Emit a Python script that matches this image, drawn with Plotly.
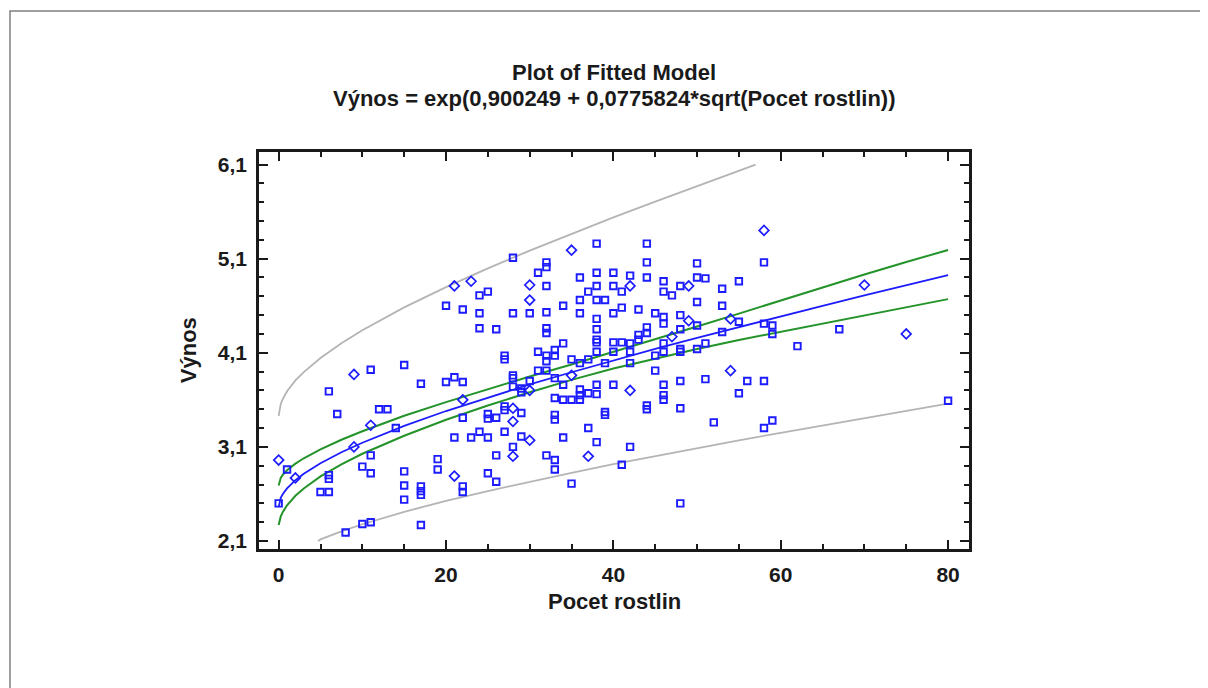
import plotly.graph_objects as go

# ---------------- data ----------------
# observed points drawn as small open squares
sq_x = [24, 25, 20, 22, 24, 24, 26,
        15, 11, 6, 17, 20, 21, 22, 7, 12, 13, 14, 22, 25, 25, 26, 21, 23, 24, 25,
        11, 1, 10, 11, 6, 6, 5, 6, 0, 15, 15, 15, 17, 17, 17, 19, 19, 22, 22, 25, 26,
        17, 10, 11, 8,
        28, 38, 44, 32, 32, 31, 32, 36, 38, 38, 40, 40, 42, 41, 44, 44, 46, 46, 47, 48,
        50, 50, 51, 53, 37, 36, 38, 39, 50, 34, 53,
        41, 43, 28, 30, 32, 36, 40, 45, 46, 46, 48, 32, 32, 38, 38, 38, 38, 40, 41, 44,
        44, 43, 43, 34, 46, 46, 48, 48, 48, 50, 50, 51, 53, 42, 42, 38, 40, 27, 27, 31,
        32, 32, 33, 33, 35, 36, 37, 39, 42, 45, 45, 28, 28, 30, 31, 32, 33, 34, 28, 29,
        29, 36, 36, 36, 37, 38, 38, 40, 46, 46, 46, 48, 51, 33, 34, 35, 44, 44, 48, 27,
        29, 33, 39, 39,
        33, 27, 27, 29, 28, 26, 32, 33, 33, 34, 35, 37, 38, 42, 41, 48, 52,
        58, 55, 55, 58, 59, 59, 67, 62, 56, 58, 55, 80, 59, 58]
sq_y = [4.71, 4.75, 4.60, 4.56, 4.52, 4.36, 4.35,
        3.97, 3.92, 3.69, 3.77, 3.79, 3.84, 3.79, 3.45, 3.50, 3.50, 3.30, 3.41, 3.45, 3.40, 3.41, 3.20, 3.20, 3.26, 3.20,
        3.01, 2.86, 2.89, 2.82, 2.80, 2.76, 2.62, 2.62, 2.50, 2.84, 2.69, 2.54, 2.68, 2.63, 2.59, 2.97, 2.86, 2.68, 2.62, 2.82, 2.73,
        2.27, 2.28, 2.30, 2.19,
        5.11, 5.26, 5.26, 5.06, 5.01, 4.95, 4.81, 4.90, 4.95, 4.81, 4.95, 4.81, 4.92, 4.75, 5.06, 4.90, 4.86, 4.75, 4.71, 4.81,
        5.05, 4.90, 4.89, 4.78, 4.75, 4.66, 4.66, 4.66, 4.64, 4.60, 4.60,
        4.58, 4.56, 4.52, 4.52, 4.53, 4.52, 4.52, 4.52, 4.48, 4.41, 4.50, 4.36, 4.31, 4.46, 4.35, 4.24, 4.21, 4.21, 4.21, 4.37,
        4.31, 4.29, 4.24, 4.20, 4.20, 4.11, 4.35, 4.14, 4.11, 4.39, 4.14, 4.20, 4.32, 4.20, 4.11, 4.11, 4.11, 4.07, 4.03, 4.11,
        4.07, 4.01, 4.13, 4.07, 4.03, 3.99, 4.03, 3.99, 3.99, 4.07, 3.91, 3.86, 3.83, 3.80, 3.91, 3.91, 3.83, 3.76, 3.74, 3.72,
        3.68, 3.71, 3.65, 3.60, 3.67, 3.76, 3.66, 3.76, 3.76, 3.65, 3.60, 3.80, 3.82, 3.62, 3.60, 3.60, 3.54, 3.50, 3.51, 3.53,
        3.46, 3.44, 3.47, 3.44,
        3.39, 3.49, 3.26, 3.21, 3.10, 3.01, 3.01, 2.96, 2.86, 3.20, 2.71, 3.30, 3.15, 3.10, 2.91, 2.50, 3.36,
        5.06, 4.86, 4.43, 4.41, 4.39, 4.30, 4.35, 4.17, 3.80, 3.80, 3.67, 3.59, 3.38, 3.30]

# observed points that appear as open diamonds
dm_x = [21, 23, 9, 11, 22, 9, 0, 2, 21, 35, 30, 42, 49, 30, 49, 47, 35, 30, 42, 28, 28, 30, 28, 37,
        58, 70, 54, 75, 54]
dm_y = [4.81, 4.86, 3.87, 3.33, 3.60, 3.10, 2.96, 2.77, 2.79, 5.19, 4.82, 4.81, 4.81, 4.66, 4.44, 4.27,
        3.86, 3.70, 3.70, 3.51, 3.37, 3.17, 3.00, 3.00, 5.40, 4.82, 4.46, 4.30, 3.91]

# fitted curve and confidence limits for the mean
curve_x = [0, 0.25, 0.5, 1, 2, 3, 5, 7.5, 10, 15, 20, 25, 30, 35, 40, 45, 50, 55, 60, 65, 70, 75, 80]
fit_y = [2.460, 2.558, 2.599, 2.659, 2.746, 2.814, 2.926, 3.043, 3.144, 3.323, 3.481, 3.626, 3.763,
         3.893, 4.019, 4.140, 4.258, 4.374, 4.487, 4.599, 4.709, 4.817, 4.924]
conf_hi = [2.690, 2.771, 2.804, 2.852, 2.922, 2.979, 3.073, 3.176, 3.266, 3.431, 3.576, 3.714, 3.847,
           3.976, 4.108, 4.245, 4.379, 4.516, 4.656, 4.796, 4.931, 5.064, 5.192]
conf_lo = [2.270, 2.361, 2.409, 2.479, 2.581, 2.658, 2.786, 2.915, 3.027, 3.218, 3.388, 3.540, 3.681,
           3.812, 3.932, 4.038, 4.140, 4.236, 4.324, 4.410, 4.497, 4.582, 4.670]

# prediction limits
pred_hi_x = [0, 0.25, 0.5, 1, 2, 3, 5, 7.5, 10, 15, 20, 25, 30, 35, 40, 45, 50, 55, 57]
pred_hi = [3.430, 3.556, 3.610, 3.691, 3.806, 3.894, 4.044, 4.202, 4.339, 4.582, 4.797, 4.997, 5.185,
           5.365, 5.538, 5.705, 5.872, 6.036, 6.098]
pred_lo_x = [4.7, 5, 7.5, 10, 15, 20, 25, 30, 35, 40, 45, 50, 55, 60, 65, 70, 75, 80]
pred_lo = [2.100, 2.117, 2.203, 2.278, 2.410, 2.526, 2.631, 2.731, 2.825, 2.917, 3.004, 3.088, 3.170,
           3.249, 3.328, 3.405, 3.480, 3.560]

x_ticks = [0, 20, 40, 60, 80]
x_tick_labels = ["0", "20", "40", "60", "80"]
y_ticks = [2.1, 3.1, 4.1, 5.1, 6.1]
y_tick_labels = ["2,1", "3,1", "4,1", "5,1", "6,1"]

title_1 = "Plot of Fitted Model"
title_2 = "Výnos = exp(0,900249 + 0,0775824*sqrt(Pocet rostlin))"
x_title = "Pocet rostlin"
y_title = "Výnos"

# ---------------- figure ----------------
FONT = "Liberation Sans, Arial, sans-serif"
BLUE = "#1c1cff"
GREEN = "#23932a"
GRAY = "#b4b4b4"
INK = "#1a1a1a"

fig = go.Figure()
fig.add_trace(go.Scatter(x=pred_hi_x, y=pred_hi, mode="lines", line=dict(color=GRAY, width=1.8)))
fig.add_trace(go.Scatter(x=pred_lo_x, y=pred_lo, mode="lines", line=dict(color=GRAY, width=1.8)))
fig.add_trace(go.Scatter(x=curve_x, y=conf_hi, mode="lines", line=dict(color=GREEN, width=2)))
fig.add_trace(go.Scatter(x=curve_x, y=conf_lo, mode="lines", line=dict(color=GREEN, width=2)))
fig.add_trace(go.Scatter(x=curve_x, y=fit_y, mode="lines", line=dict(color=BLUE, width=1.8)))
fig.add_trace(go.Scatter(x=sq_x, y=sq_y, mode="markers",
                         marker=dict(symbol="square-open", size=6.5, color=BLUE, line=dict(width=1.9, color=BLUE))))
fig.add_trace(go.Scatter(x=dm_x, y=dm_y, mode="markers",
                         marker=dict(symbol="diamond-open", size=7.5, color=BLUE, line=dict(width=1.7, color=BLUE))))

tickfont = dict(family=FONT, size=21, color=INK, weight="bold")
common = dict(showgrid=False, zeroline=False, showline=True, linecolor=INK, linewidth=2.5,
              mirror="ticks", ticks="inside", ticklen=9, tickwidth=2, tickcolor=INK,
              tickfont=tickfont, tickmode="array")

# the page body adds an 8 px offset, so the figure is 8 px smaller and margins shifted
fig.update_layout(
    width=1200, height=680,
    margin=dict(l=251, r=239, t=144, b=139),
    paper_bgcolor="white", plot_bgcolor="white",
    showlegend=False,
    xaxis=dict(range=[-2.35, 82.5], tickvals=x_ticks, ticktext=x_tick_labels,
               ticklabelstandoff=5,
               minor=dict(ticks="inside", tickmode="linear", tick0=0, dtick=5, ticklen=5,
                          tickwidth=1.5, tickcolor=INK, showgrid=False),
               **common),
    yaxis=dict(range=[2.015, 6.233], tickvals=y_ticks, ticktext=y_tick_labels,
               ticklabelstandoff=5,
               minor=dict(ticks="inside", tickmode="linear", tick0=2.1, dtick=0.2, ticklen=5,
                          tickwidth=1.5, tickcolor=INK, showgrid=False),
               **common),
    shapes=[dict(type="rect", xref="paper", yref="paper",
                 x0=-0.3507, x1=1.5, y0=-0.5, y1=1.3552,
                 line=dict(color="#808080", width=1.5), fillcolor="rgba(0,0,0,0)", layer="below")],
    annotations=[
        dict(text="<b>" + title_1 + "</b>", xref="paper", yref="paper", x=0.5, y=1.199,
             xanchor="center", yanchor="middle", showarrow=False,
             font=dict(family=FONT, size=22, color=INK)),
        dict(text="<b>" + title_2 + "</b>", xref="paper", yref="paper", x=0.5, y=1.136,
             xanchor="center", yanchor="middle", showarrow=False,
             font=dict(family=FONT, size=22, color=INK)),
        dict(text="<b>" + x_title + "</b>", xref="paper", yref="paper", x=0.5, y=-0.1335,
             xanchor="center", yanchor="middle", showarrow=False,
             font=dict(family=FONT, size=22, color=INK)),
        dict(text="<b>" + y_title + "</b>", xref="paper", yref="paper", x=-0.099, y=0.5,
             xanchor="center", yanchor="middle", showarrow=False, textangle=-90,
             font=dict(family=FONT, size=22, color=INK)),
    ],
)

fig.write_html("out.html")
